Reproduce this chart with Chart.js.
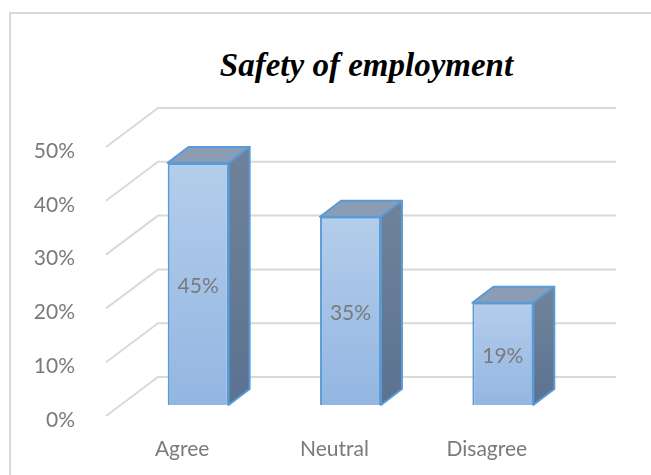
<!DOCTYPE html>
<html>
<head>
<meta charset="UTF-8">
<script src="https://cdn.jsdelivr.net/npm/chart.js@4.4.1/dist/chart.umd.min.js"></script>
<style>
  body { margin: 0; background: #fff; }
  #wrap { position: relative; width: 651px; height: 475px; overflow: hidden; }
  #frame { position: absolute; left: 9px; top: 12px; width: 700px; height: 500px;
           border-left: 2px solid #d9d9d9; border-top: 2px solid #d9d9d9; }
  #title { position: absolute; left: 0; width: 733px; top: 47px; line-height: 40px;
           text-align: center; font: italic bold 33px "Liberation Serif", serif; color: #000; }
  canvas { position: absolute; left: 0; top: 0; }
</style>
</head>
<body>
<div id="wrap">
  <div id="frame"></div>
  <div id="title">Safety of employment</div>
  <canvas id="chart" width="651" height="475"></canvas>
</div>
<script>
// chart data
const categories = ['Agree', 'Neutral', 'Disagree'];
const values = [45, 35, 19];
const yMin = 0, yMax = 50, yStep = 10;

const textFont = { family: 'Lato, "Open Sans", sans-serif', size: 21 };
const textColor = '#7a7a7a';

// fake 3D offsets (pixels)
const DEPTH_X = 21, DEPTH_Y = 16;   // bar depth
const BACK_X = 36, BACK_Y = 28;     // back wall vs bar front
const WALL_X = 16, WALL_Y = 11;     // front edge of side wall

const threeD = {
  id: 'threeD',
  beforeDatasetsDraw(chart) {
    const { ctx, chartArea: a, scales: { y } } = chart;
    ctx.save();
    ctx.strokeStyle = '#d9d9d9';
    ctx.lineWidth = 2;
    y.ticks.forEach(t => {
      const py = y.getPixelForValue(t.value);
      ctx.beginPath();
      ctx.moveTo(a.left - WALL_X, py + WALL_Y);
      ctx.lineTo(a.left + BACK_X, py - BACK_Y);
      ctx.lineTo(a.right + BACK_X + 1, py - BACK_Y);
      ctx.stroke();
    });
    ctx.restore();
  },
  afterDatasetsDraw(chart) {
    const ctx = chart.ctx;
    const meta = chart.getDatasetMeta(0);
    ctx.save();
    ctx.lineJoin = 'round';
    ctx.strokeStyle = '#5b9bd5';
    ctx.lineWidth = 2;
    meta.data.forEach((bar, i) => {
      const l = bar.x - bar.width / 2, r = bar.x + bar.width / 2;
      const top = bar.y, bot = bar.base;
      // top face
      ctx.beginPath();
      ctx.moveTo(l, top);
      ctx.lineTo(l + DEPTH_X, top - DEPTH_Y);
      ctx.lineTo(r + DEPTH_X, top - DEPTH_Y);
      ctx.lineTo(r, top);
      ctx.closePath();
      ctx.fillStyle = '#8a9db5';
      ctx.fill();
      ctx.stroke();
      // right face
      const g = ctx.createLinearGradient(0, top, 0, bot);
      g.addColorStop(0, '#6e8199');
      g.addColorStop(1, '#5a7391');
      ctx.beginPath();
      ctx.moveTo(r, top);
      ctx.lineTo(r + DEPTH_X, top - DEPTH_Y);
      ctx.lineTo(r + DEPTH_X, bot - DEPTH_Y);
      ctx.lineTo(r, bot);
      ctx.closePath();
      ctx.fillStyle = g;
      ctx.fill();
      ctx.stroke();
      // value label
      ctx.fillStyle = textColor;
      ctx.font = textFont.size + 'px ' + textFont.family;
      ctx.textAlign = 'center';
      ctx.textBaseline = 'middle';
      ctx.fillText(values[i] + '%', bar.x, (top + bot) / 2 + 2);
    });
    ctx.restore();
  }
};

new Chart(document.getElementById('chart'), {
  type: 'bar',
  data: {
    labels: categories,
    datasets: [{
      data: values,
      barPercentage: 0.8,
      categoryPercentage: 0.5,
      borderColor: '#5b9bd5',
      borderWidth: 2,
      backgroundColor: c => {
        const ch = c.chart;
        if (c.type !== 'data' || !ch.chartArea) return '#a6c3e8';
        const y = ch.scales.y;
        const g = ch.ctx.createLinearGradient(0, y.getPixelForValue(c.raw), 0, y.getPixelForValue(0));
        g.addColorStop(0, '#b4cdeb');
        g.addColorStop(1, '#93b6e2');
        return g;
      }
    }]
  },
  options: {
    responsive: false,
    animation: false,
    layout: { padding: { left: 10, right: 72, top: 136, bottom: 0 } },
    plugins: { legend: { display: false }, tooltip: { enabled: false }, title: { display: false } },
    scales: {
      x: {
        grid: { display: false },
        border: { display: false },
        ticks: { font: textFont, color: textColor, padding: 24, labelOffset: -16 },
        afterFit: s => { s.height = 70; }
      },
      y: {
        min: yMin, max: yMax,
        grid: { display: false },
        border: { display: false },
        ticks: { stepSize: yStep, font: textFont, color: textColor, padding: 39, labelOffset: 15,
                 callback: v => v + '%' },
        afterFit: s => { s.width = 112; }
      }
    }
  },
  plugins: [threeD]
});
</script>
</body>
</html>
